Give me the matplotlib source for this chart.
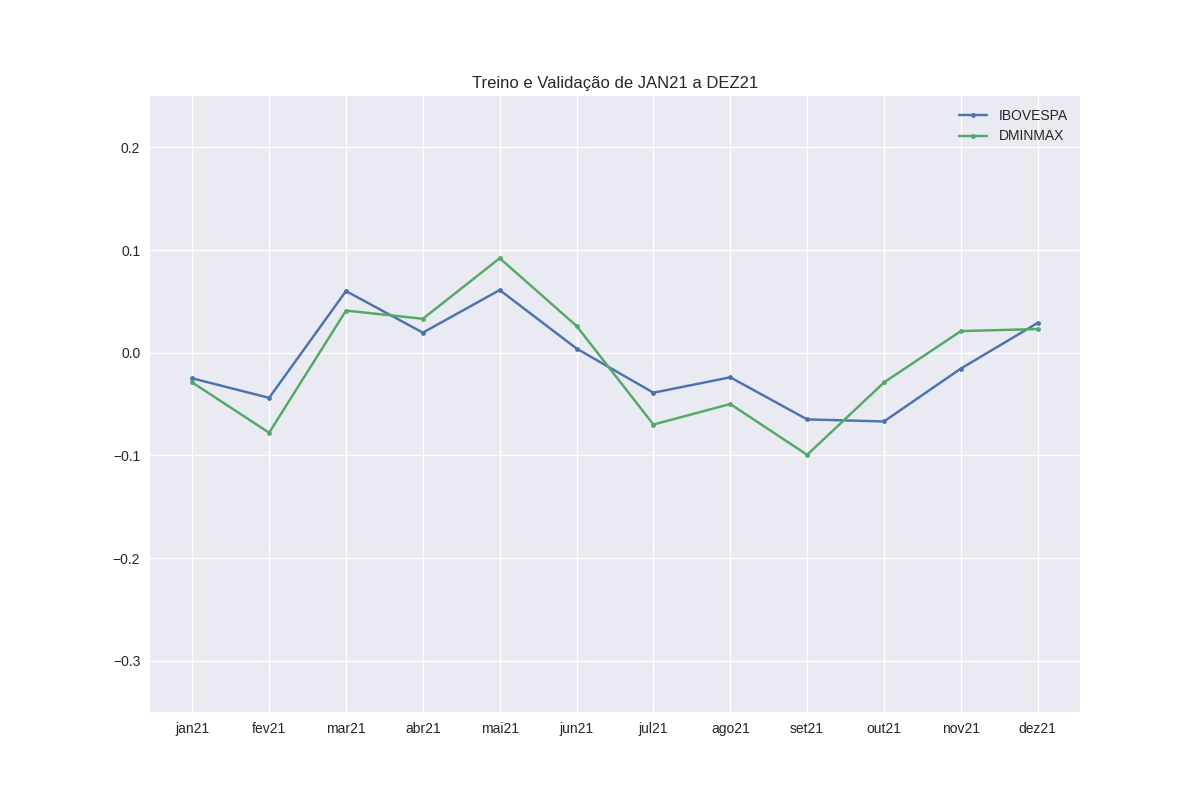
import matplotlib
matplotlib.use('Agg')
import matplotlib.pyplot as plt

meses = ['jan21', 'fev21', 'mar21', 'abr21', 'mai21', 'jun21',
         'jul21', 'ago21', 'set21', 'out21', 'nov21', 'dez21']
ibovespa = [-0.025, -0.044, 0.060, 0.0195, 0.061, 0.004,
            -0.039, -0.024, -0.065, -0.067, -0.0155, 0.029]
dminmax = [-0.029, -0.078, 0.041, 0.033, 0.092, 0.026,
           -0.070, -0.050, -0.0995, -0.029, 0.021, 0.023]

plt.style.use('seaborn-v0_8')
fig = plt.figure(figsize=(12, 8), dpi=100)
plt.plot(meses, ibovespa, marker='.', label='IBOVESPA')
plt.plot(meses, dminmax, marker='.', label='DMINMAX')
plt.title('Treino e Validação de JAN21 a DEZ21')
plt.ylim(-0.35, 0.25)
plt.legend(loc='upper right')
plt.savefig('out.png', dpi=100)
